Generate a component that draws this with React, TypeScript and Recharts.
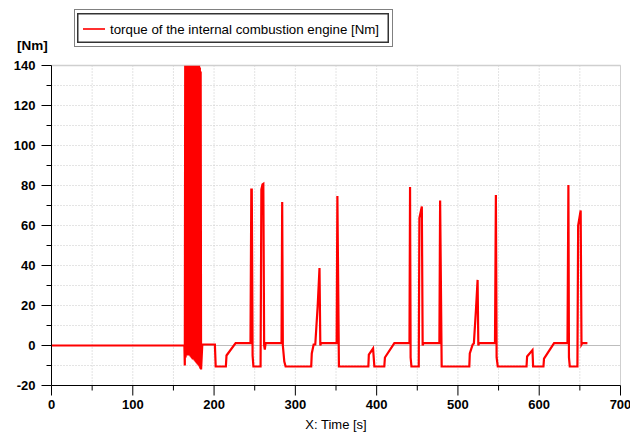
import { LineChart, Line, XAxis, YAxis, CartesianGrid, ReferenceLine } from 'recharts';

// time [s]
const time = [
	0, 163.5, 164, 164.5, 165, 165.5, 166, 166.5, 167, 167.5, 168, 168.5, 169, 169.5, 170, 170.5,
	171, 171.5, 172, 172.5, 173, 173.5, 174, 174.5, 175, 175.5, 176, 176.5, 177, 177.5, 178, 178.5,
	179, 179.5, 180, 180.5, 181, 181.5, 182, 182.5, 183, 183.5, 184, 185.5, 201, 202, 214.5, 215.3,
	226.5, 244.8, 245.8, 246.4, 247.4, 248.4, 257.2, 258.2, 259.6, 260.6, 261.6, 262.4, 263.4, 283,
	283.8, 284.6, 286.4, 288, 319.5, 320.2, 322.5, 324.5, 327.5, 329.7, 330.7, 331.6, 350.8, 351.7,
	353.6, 389.8, 390.4, 395.6, 397.2, 409.4, 410.2, 421.8, 440.4, 441.1, 441.8, 442.8, 451.8, 452.6,
	455.6, 456.6, 457.6, 477.2, 478.1, 480, 514, 514.6, 518.2, 519.6, 522.2, 524.2, 525.1, 526, 545.6,
	546.7, 547.6, 549, 584.4, 585.1, 591.7, 592.5, 605.2, 605.9, 618.3, 634.8, 635.9, 636.6, 637.6,
	647, 647.9, 651, 652, 653, 659.3,
];

// torque of the internal combustion engine [Nm]
const torque = [
	0, 0, -10, 140, -6, 140, -5, 140, -5, 140, -5, 140, -5, 140, -5, 140,
	-5.5, 140, -6, 140, -6.5, 140, -7, 140, -7, 140, -7.5, 140, -8, 140, -8.5, 140,
	-9, 140, -9.5, 140, -10, 140, -10.5, 139, -11.5, 137, -12, 0.5, 0.5, -10.5, -10.5, -5,
	1.2, 1.2, 78, 78, -5, -10.5, -10.5, 78, 80.5, 80.8, 0, -2, 1.2, 1.2,
	71.7, 0, -8, -10.5, -10.5, -4, 0.5, 0.5, 20, 38.7, 0, 1.2, 1.2, 74.8,
	-10.5, -10.5, -4.5, -1.5, -10.5, -10.5, -6, 1.2, 1.2, 79.2, -6, -10.5, -10.5, 63.7,
	69.5, 0, 1.2, 1.2, 72.5, -10.5, -10.5, -4, 0.5, 1, 18, 32.8, 0, 1.2, 1.2,
	75.3, -6, -10.5, -10.5, -5.5, -2.3, -10.5, -10.5, -6.6, 1.2, 1.2, 80.3, -6, -10.5,
	-10.5, 60, 67.5, 0.5, 1.2, 1.2,
];

const xTicks = [0, 50, 100, 150, 200, 250, 300, 350, 400, 450, 500, 550, 600, 650, 700];
const yTicks = [-20, -10, 0, 10, 20, 30, 40, 50, 60, 70, 80, 90, 100, 110, 120, 130, 140];

const data = time.map((t, i) => ({ t, v: torque[i] }));

const font = '"Liberation Sans", Arial, sans-serif';

const XTick = ({ x, y, payload }: any) => {
	const major = payload.value % 100 === 0;
	return (
		<g>
			<line x1={x} x2={x} y1={y} y2={y + (major ? 10 : 5)} stroke='#000' />
			{major && (
				<text x={x} y={y + 23.5} textAnchor='middle' fontFamily={font} fontSize={13} fontWeight='bold' fill='#000'>
					{payload.value}
				</text>
			)}
		</g>
	);
};

const YTick = ({ x, y, payload }: any) => {
	const major = payload.value % 20 === 0;
	return (
		<g>
			<line x1={x - (major ? 10 : 5)} x2={x} y1={y} y2={y} stroke='#000' />
			{major && (
				<text x={x - 16} y={y + 4.6} textAnchor='end' fontFamily={font} fontSize={13} fontWeight='bold' fill='#000'>
					{payload.value}
				</text>
			)}
		</g>
	);
};

export default function App() {
	return (
		<div style={{ position: 'absolute', left: 0, top: 0, width: 630, height: 434, background: '#fff' }}>
			<LineChart width={630} height={434} data={data} margin={{ top: 65.5, right: 9.5, bottom: 0, left: 0 }}>
				<CartesianGrid stroke='#c8c8c8' strokeDasharray='1 2' />
				<ReferenceLine y={0} stroke='#bdbdbd' />
				<ReferenceLine y={140} stroke='#cfcfcf' strokeWidth={1.5} />
				<ReferenceLine x={700} stroke='#cfcfcf' />
				<XAxis
					dataKey='t'
					type='number'
					domain={[0, 700]}
					ticks={xTicks}
					interval={0}
					height={48.5}
					tickLine={false}
					tickSize={0}
					tickMargin={0}
					axisLine={{ stroke: '#000' }}
					tick={(p: any) => <XTick {...p} />}
					label={{ value: 'X: Time [s]', position: 'insideBottom', offset: 5.5, fill: '#000', fontSize: 13, fontFamily: font }}
				/>
				<YAxis
					type='number'
					domain={[-20, 140]}
					ticks={yTicks}
					interval={0}
					width={51.5}
					allowDataOverflow
					tickLine={false}
					tickSize={0}
					tickMargin={0}
					axisLine={{ stroke: '#000' }}
					tick={(p: any) => <YTick {...p} />}
				/>
				<Line type='linear' dataKey='v' stroke='#ff0000' strokeWidth={2.2} dot={false} isAnimationActive={false} />
			</LineChart>
			<svg width={630} height={434} style={{ position: 'absolute', left: 0, top: 0, pointerEvents: 'none' }}>
				<rect x={74.5} y={9.5} width={318} height={37} fill='#fff' stroke='#000' strokeDasharray='1 1' />
				<rect x={77.75} y={13.75} width={310.5} height={28.5} fill='none' stroke='#333' strokeWidth={1.5} />
				<line x1={83} x2={105} y1={29} y2={29} stroke='#ff3030' strokeWidth={2} />
				<text x={110} y={33.5} fontFamily={font} fontSize={13.3} fill='#000'>
					torque of the internal combustion engine [Nm]
				</text>
				<text x={17} y={50} fontFamily={font} fontSize={13.5} fontWeight='bold' fill='#000'>
					[Nm]
				</text>
			</svg>
		</div>
	);
}
